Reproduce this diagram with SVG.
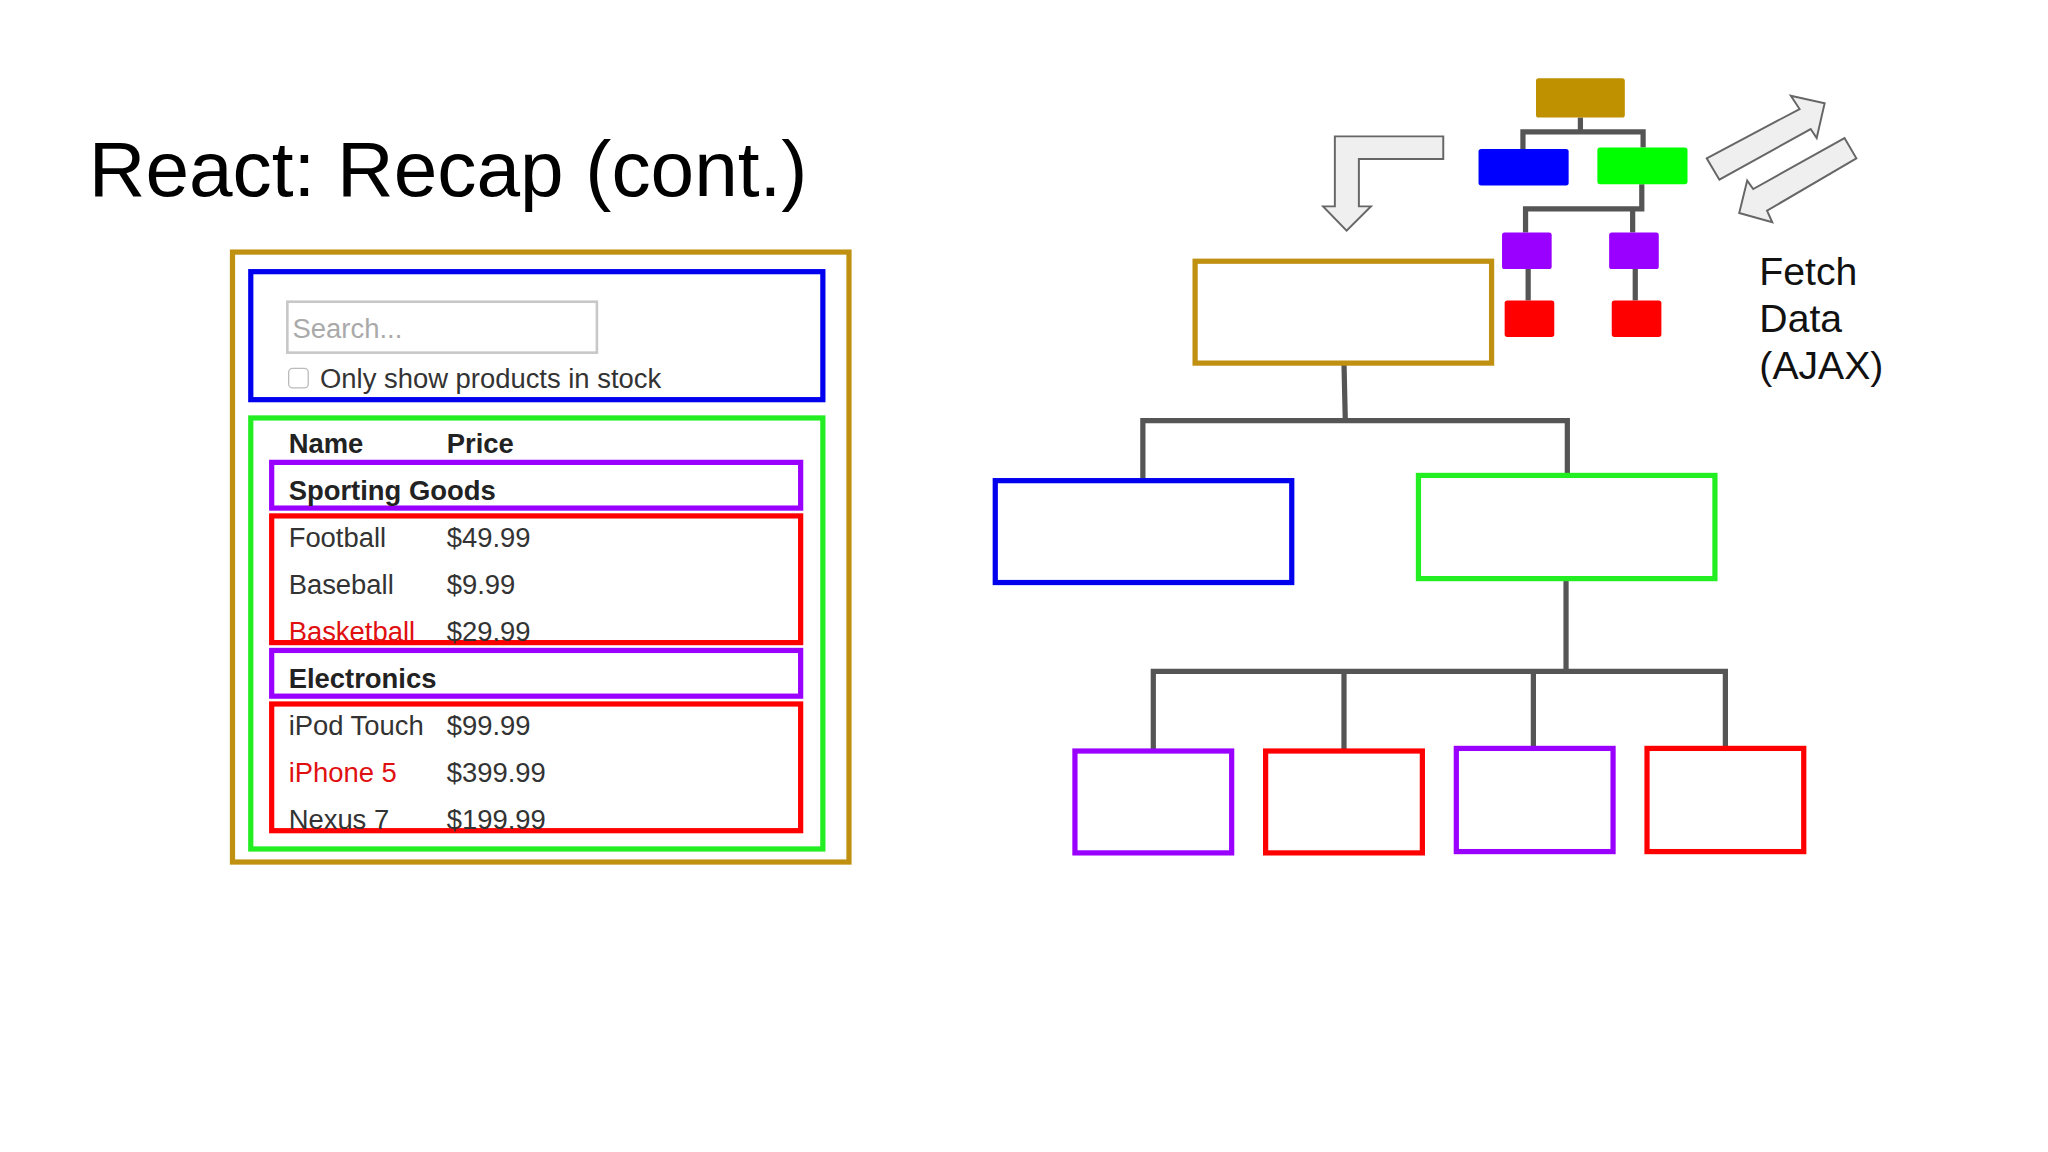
<svg xmlns="http://www.w3.org/2000/svg" width="2048" height="1152" viewBox="0 0 2048 1152">
<style>
text{font-family:"Liberation Sans",Arial,sans-serif}
.t{font-size:21px;fill:#333}
.b{font-weight:bold;fill:#222}
.r{fill:#e01010}
.o{fill:none;stroke-width:4}
.ln{fill:none;stroke:#555;stroke-width:4}
.ar{fill:#efefef;stroke:#666;stroke-width:1.5}
</style>
<rect width="2048" height="1152" fill="#fff"/>
<g transform="scale(1.30612)">
<text x="68" y="150" font-size="60" fill="#000">React: Recap (cont.)</text>
<g id="panel">
<rect class="o" x="178" y="193" width="472" height="467" stroke="#c09010"/>
<rect class="o" x="192" y="208" width="438" height="98" stroke="#0000ee"/>
<rect x="220" y="231" width="237" height="39" fill="#fff" stroke="#c8c8c8" stroke-width="2"/>
<text x="224" y="259" font-size="21" fill="#aaa">Search...</text>
<rect x="221" y="282" width="15" height="15" rx="3" fill="#fff" stroke="#bbb"/>
<text class="t" x="245" y="297">Only show products in stock</text>
<rect class="o" x="192" y="320" width="438" height="330" stroke="#22ee22"/>
<text class="t b" x="221" y="347">Name</text><text class="t b" x="342" y="347">Price</text>
<rect class="o" x="208" y="354" width="405" height="35" stroke="#9900ff"/>
<text class="t b" x="221" y="383">Sporting Goods</text>
<rect class="o" x="208" y="395" width="405" height="97" stroke="#ff0000"/>
<text class="t" x="221" y="419">Football</text><text class="t" x="342" y="419">$49.99</text>
<text class="t" x="221" y="455">Baseball</text><text class="t" x="342" y="455">$9.99</text>
<text class="t r" x="221" y="491">Basketball</text><text class="t" x="342" y="491">$29.99</text>
<rect class="o" x="208" y="498" width="405" height="35" stroke="#9900ff"/>
<text class="t b" x="221" y="527">Electronics</text>
<rect class="o" x="208" y="539" width="405" height="97" stroke="#ff0000"/>
<text class="t" x="221" y="563">iPod Touch</text><text class="t" x="342" y="563">$99.99</text>
<text class="t r" x="221" y="599">iPhone 5</text><text class="t" x="342" y="599">$399.99</text>
<text class="t" x="221" y="635">Nexus 7</text><text class="t" x="342" y="635">$199.99</text>
</g>
<g id="connectors">
<path class="ln" d="M1029 278 L1030 322 M875 322 H1200 M875 320 V368 M1200 320 V364"/>
<path class="ln" d="M1199 443 V514 M883 514 H1321 M883 512 V575 M1029 512 V575 M1174 512 V573 M1321 512 V573"/>
<path class="ln" d="M1210 90 V101 M1166 101 H1258 M1166 99 V114 M1258 99 V113 M1257 141 V160 M1168 160 H1259 M1168 158 V178 M1250 158 V178 M1170 206 V230 M1252 206 V230"/>
</g>
<g id="big-tree">
<rect class="o" x="915" y="200" width="227" height="78" stroke="#c09010"/>
<rect class="o" x="762" y="368" width="227" height="78" stroke="#0000ee"/>
<rect class="o" x="1086" y="364" width="227" height="79" stroke="#22ee22"/>
<rect class="o" x="823" y="575" width="120" height="78" stroke="#9900ff"/>
<rect class="o" x="969" y="575" width="120" height="78" stroke="#ff0000"/>
<rect class="o" x="1115" y="573" width="120" height="79" stroke="#9900ff"/>
<rect class="o" x="1261" y="573" width="120" height="79" stroke="#ff0000"/>
</g>
<g id="small-tree">
<rect x="1176" y="60" width="68" height="30" rx="2" fill="#bf9000"/>
<rect x="1132" y="114" width="69" height="28" rx="2" fill="#0000ff"/>
<rect x="1223" y="113" width="69" height="28" rx="2" fill="#00ff00"/>
<rect x="1150" y="178" width="38" height="28" rx="2" fill="#9900ff"/>
<rect x="1232" y="178" width="38" height="28" rx="2" fill="#9900ff"/>
<rect x="1152" y="230" width="38" height="28" rx="2" fill="#ff0000"/>
<rect x="1234" y="230" width="38" height="28" rx="2" fill="#ff0000"/>
</g>
<g id="arrows">
<polygon class="ar" points="1105,104.4 1105,121.7 1040.4,121.7 1040.4,158 1049.6,158 1031,176.6 1013,158 1022,158 1022,104.4"/>
<polygon class="ar" points="1306.7,121.2 1377.8,83.5 1371.1,73.3 1397,79.1 1390.9,105.7 1386.3,98.8 1316.4,137.6"/>
<polygon class="ar" points="1412.2,105.7 1421.3,121.2 1352.9,161.3 1356.9,170.2 1331.6,163.1 1337.7,138.3 1342.3,144.7"/>
</g>
<g font-size="30" fill="#111">
<text x="1347" y="218">Fetch</text>
<text x="1347" y="254">Data</text>
<text x="1347" y="290">(AJAX)</text>
</g>
</g>
</svg>
